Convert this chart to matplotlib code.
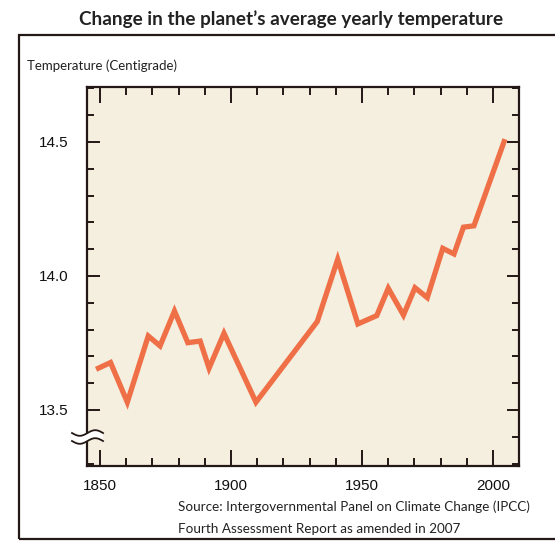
import numpy as np
import matplotlib.pyplot as plt
from matplotlib.patches import Rectangle, Polygon
from matplotlib.ticker import MultipleLocator

# data
years = [1849.4, 1854, 1860.4, 1868.4, 1872.9, 1878.4, 1883.5, 1888.2, 1891.6,
         1897.3, 1909.5, 1932.9, 1940.7, 1948.4, 1955.6, 1960, 1965.8, 1970.2,
         1974.9, 1980.8, 1985.1, 1988.7, 1992.7, 2004.2]
temps = [13.656, 13.677, 13.529, 13.776, 13.739, 13.869, 13.751, 13.757, 13.656,
         13.786, 13.529, 13.83, 14.062, 13.821, 13.852, 13.954, 13.854, 13.956,
         13.919, 14.103, 14.082, 14.182, 14.187, 14.501]
xticks = [1850, 1900, 1950, 2000]
yticks = [13.5, 14.0, 14.5]

dark = '#231815'
W, H = 555, 543
fig = plt.figure(figsize=(W / 100, H / 100), dpi=100)

# outer frame (right side runs off the picture)
fig.patches.append(Rectangle((19 / W, 1 - 539 / H), 600 / W, (539 - 35) / H,
                             transform=fig.transFigure, fill=False,
                             edgecolor=dark, linewidth=1.6))

fig.text(291 / W, 1 - 19 / H, "Change in the planet\u2019s average yearly temperature",
         ha='center', va='center', fontsize=13.6, fontweight='bold',
         family='Lato', color='#222222')
fig.text(27 / W, 1 - 66 / H, "Temperature (Centigrade)", ha='left', va='center',
         fontsize=9.5, family='Lato', color='#222222')
fig.text(178 / W, 1 - 507 / H,
         "Source: Intergovernmental Panel on Climate Change (IPCC)",
         ha='left', va='center', fontsize=9.7, family='Lato', color='#222222')
fig.text(178 / W, 1 - 529 / H, "Fourth Assessment Report as amended in 2007",
         ha='left', va='center', fontsize=9.7, family='Lato', color='#222222')

ax = fig.add_axes([86.7 / W, 1 - 466 / H, (519 - 86.7) / W, (466 - 86.7) / H])
ax.set_facecolor('#f4efdf')
ax.plot(years, temps, color='#ef6f47', linewidth=3.8, solid_joinstyle='miter',
        zorder=3)

ax.set_xlim(1844.9, 2009.9)
ax.set_ylim(13.291, 14.706)
ax.set_xticks(xticks)
ax.set_yticks(yticks)
ax.set_yticklabels(['%.1f' % v for v in yticks])
ax.xaxis.set_minor_locator(MultipleLocator(10))
ax.yaxis.set_minor_locator(MultipleLocator(0.1))
ax.tick_params(axis='both', which='both', direction='in', color=dark,
               width=1.4, top=True, right=True, labelsize=11,
               labelcolor='#111111')
ax.tick_params(axis='x', which='major', length=11.5, pad=9)
ax.tick_params(axis='x', which='minor', length=5.5)
ax.tick_params(axis='y', which='major', length=9, pad=13)
ax.tick_params(axis='y', which='minor', length=5)
for lab in ax.get_xticklabels() + ax.get_yticklabels():
    lab.set_family('Liberation Sans')
for s in ax.spines.values():
    s.set_color(dark)
    s.set_linewidth(1.6)

# axis break mark
t = np.linspace(0, 1, 60)
bx = (72 + 31 * t) / W
wave = 2.8 * np.sin(2 * np.pi * t)
y1 = 1 - (433 + wave) / H
y2 = 1 - (441 + wave) / H
pts = np.column_stack([np.r_[bx, bx[::-1]], np.r_[y1, y2[::-1]]])
fig.patches.append(Polygon(pts, closed=True, transform=fig.transFigure,
                           facecolor='white', edgecolor='none', zorder=5))
fig.lines.append(plt.Line2D(bx, y1, transform=fig.transFigure, color=dark,
                            linewidth=1.3, zorder=6))
fig.lines.append(plt.Line2D(bx, y2, transform=fig.transFigure, color=dark,
                            linewidth=1.3, zorder=6))

fig.savefig('out.png', dpi=100)
